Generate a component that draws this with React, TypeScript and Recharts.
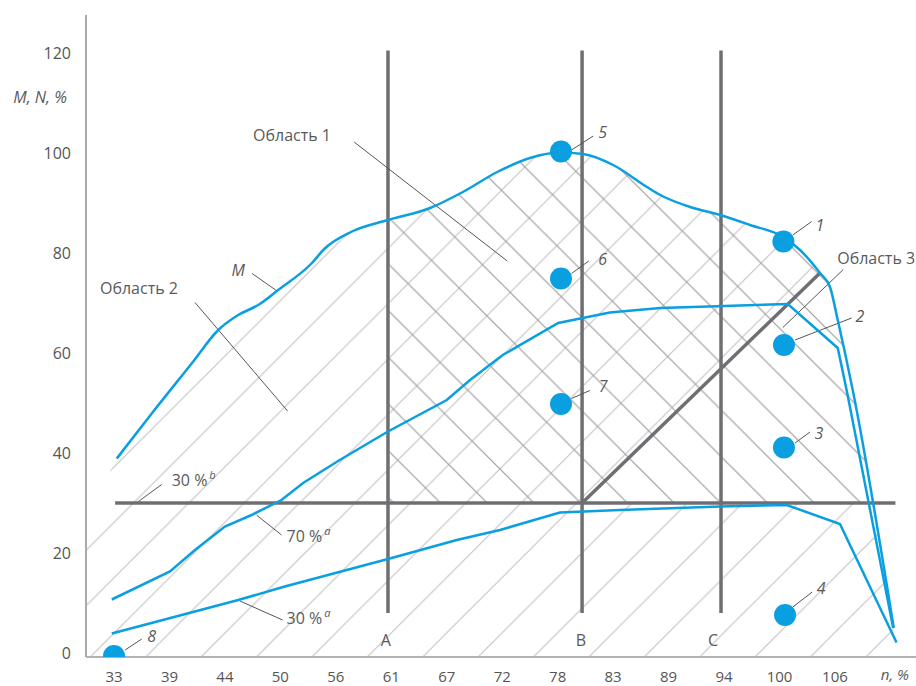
import React from 'react';
import { ComposedChart, Area, Line, Scatter, XAxis, YAxis, ReferenceLine, ReferenceDot } from 'recharts';

// x positions are indices into xLabels (equal spacing on the n axis)
const xLabels = ['33', '39', '44', '50', '56', '61', '67', '72', '78', '83', '89', '94', '100', '106'];
const xTicks = xLabels.map((_, i) => i);
const yTicks = [0, 20, 40, 60, 80, 100, 120];

const mCurve = [
  { x: 0.05, y: 38.9 }, { x: 0.68, y: 47.9 }, { x: 1.4, y: 57.9 }, { x: 1.88, y: 64.6 },
  { x: 2.24, y: 67.6 }, { x: 2.6, y: 69.6 }, { x: 2.96, y: 72.6 }, { x: 3.56, y: 77.9 },
  { x: 3.8, y: 80.9 }, { x: 4.29, y: 84.3 }, { x: 4.94, y: 86.6 }, { x: 5.7, y: 89 },
  { x: 6.29, y: 92.2 }, { x: 6.91, y: 96.2 }, { x: 7.5, y: 99 }, { x: 8.04, y: 100.1 },
  { x: 8.46, y: 99.8 }, { x: 9.0, y: 97.6 }, { x: 9.61, y: 93.2 }, { x: 9.85, y: 91.6 },
  { x: 10.39, y: 89.2 }, { x: 10.93, y: 87.6 }, { x: 11.47, y: 85.6 }, { x: 12.07, y: 83.2 },
  { x: 12.37, y: 80.6 }, { x: 12.73, y: 76 }, { x: 12.91, y: 73.2 }, { x: 13.05, y: 66.6 },
  { x: 13.32, y: 52.6 }, { x: 14.06, y: 5 },
];

const n70 = [
  { x: -0.04, y: 10.7 }, { x: 1.01, y: 16.3 }, { x: 1.46, y: 20.6 }, { x: 2.0, y: 25.3 },
  { x: 2.48, y: 27.6 }, { x: 3.02, y: 30.6 }, { x: 3.41, y: 34 }, { x: 4.07, y: 38.6 },
  { x: 4.94, y: 44.3 }, { x: 6.0, y: 50.6 }, { x: 6.42, y: 54.6 }, { x: 7.01, y: 59.6 },
  { x: 8.01, y: 66 }, { x: 8.94, y: 68.1 }, { x: 9.85, y: 69 }, { x: 12.15, y: 69.8 },
  { x: 13.05, y: 61 }, { x: 13.21, y: 52.6 }, { x: 14.05, y: 5 },
];

const n30 = [
  { x: -0.04, y: 3.9 }, { x: 1.22, y: 7.6 }, { x: 2.24, y: 10.6 }, { x: 3.08, y: 13.3 },
  { x: 3.35, y: 14.1 }, { x: 4.94, y: 18.8 }, { x: 6.18, y: 22.6 }, { x: 6.96, y: 24.6 },
  { x: 8.04, y: 28.1 }, { x: 9.12, y: 28.6 }, { x: 10.93, y: 29.3 }, { x: 12.13, y: 29.6 },
  { x: 13.09, y: 25.8 }, { x: 14.11, y: 2.1 },
];

const points = [
  { id: '1', x: 12.07, y: 82.3 }, { id: '2', x: 12.08, y: 61.6 }, { id: '3', x: 12.08, y: 41.1 },
  { id: '4', x: 12.1, y: 7.6 }, { id: '5', x: 8.06, y: 100.3 }, { id: '6', x: 8.06, y: 74.9 },
  { id: '7', x: 8.06, y: 49.8 }, { id: '8', x: 0, y: -0.6 },
];

const zones = [{ name: 'A', x: 4.94 }, { name: 'B', x: 8.44 }, { name: 'C', x: 10.945 }];
const threshold = 30;
const mCross = 13.67; // where M meets the 30 % line
const diag = [{ x: 8.44, y: 30 }, { x: 12.73, y: 76 }];

const BLUE = '#0a9fe0';
const DARK = '#6f6f73';
const HATCH = '#9c9c9c';
const TEXT = '#5a5a5a';

// regions built from the curves above
const region2 = [{ x: -0.505, y: 25 }, ...mCurve];
const region13 = [
  ...mCurve.filter((p) => p.x >= zones[0].x && p.y >= threshold).map((p) => ({ x: p.x, r: [threshold, p.y] })),
  { x: mCross, r: [threshold, threshold] },
];
const region3 = [
  { x: diag[0].x, r: [threshold, threshold] },
  ...mCurve.filter((p) => p.x >= diag[1].x && p.y >= threshold).map((p) => ({ x: p.x, r: [threshold, p.y] })),
  { x: mCross, r: [threshold, threshold] },
];

// annotation leaders and texts, in data units
const leaders = [
  [[12.24, 83.6], [12.58, 86.3]], [[12.28, 62.6], [13.3, 67]], [[12.28, 42], [12.55, 44.2]],
  [[12.24, 9.2], [12.59, 12.2]], [[8.25, 100.6], [8.64, 103.4]], [[8.25, 75.9], [8.56, 78.4]],
  [[8.25, 50.9], [8.58, 52.5]], [[0.2, 0.6], [0.5, 2.8]],
  [[4.33, 102.2], [7.09, 78.4]], [[1.46, 70.1], [3.13, 48.4]], [[2.49, 75.9], [2.94, 72.4]],
  [[13.15, 76.7], [12.06, 65.1]], [[0.86, 33.7], [0.44, 30.3]], [[2.57, 27.6], [3.02, 23.6]],
  [[2.27, 10.4], [3.04, 6.6]],
];

type Note = { x: number; y: number; text: string; sup?: string; italic?: boolean; anchor?: string };
const notes: Note[] = [
  { x: 12.73, y: 85.6, text: '1', italic: true },
  { x: 13.45, y: 67.4, text: '2', italic: true },
  { x: 12.71, y: 44, text: '3', italic: true },
  { x: 12.75, y: 13, text: '4', italic: true },
  { x: 8.81, y: 104.2, text: '5', italic: true },
  { x: 8.81, y: 78.8, text: '6', italic: true },
  { x: 8.82, y: 53.3, text: '7', italic: true },
  { x: 0.68, y: 3.4, text: '8', italic: true },
  { x: 3.21, y: 103.6, text: 'Область 1' },
  { x: 0.45, y: 73, text: 'Область 2' },
  { x: 13.04, y: 79, text: 'Область 3', anchor: 'start' },
  { x: 2.24, y: 76.6, text: 'M', italic: true },
  { x: 1.04, y: 34.6, text: '30 %', sup: 'b', anchor: 'start' },
  { x: 3.11, y: 23.3, text: '70 %', sup: 'a', anchor: 'start' },
  { x: 3.11, y: 6.9, text: '30 %', sup: 'a', anchor: 'start' },
  { x: 4.9, y: 2.6, text: 'A' },
  { x: 8.42, y: 2.6, text: 'B' },
  { x: 10.8, y: 2.6, text: 'C' },
  { x: 14.08, y: -4.4, text: 'n, %', italic: true },
  { x: -0.85, y: 111.2, text: 'M, N, %', italic: true, anchor: 'end' },
];

const noteLabel = (n: Note) => (props: any) => {
  const vb = props.viewBox || {};
  return (
    <text
      x={vb.x + (vb.width || 0) / 2}
      y={vb.y + (vb.height || 0) / 2}
      dy="0.35em"
      textAnchor={n.anchor || 'middle'}
      fontSize={n.text === 'n, %' ? 15 : 16}
      fill={TEXT}
      fontStyle={n.italic ? 'italic' : 'normal'}
    >
      {n.text}
      {n.sup && (
        <tspan dy={-7} dx={2} fontSize={11} fontStyle="italic">
          {n.sup}
        </tspan>
      )}
    </text>
  );
};

const S1 = 55.4;
const S2 = 46.7;

export default function App() {
  return (
    <div style={{ position: 'absolute', left: 0, top: 0, fontFamily: '"Open Sans", sans-serif' }}>
      <ComposedChart width={916} height={686} margin={{ top: 15, right: 0, bottom: 0, left: 0 }}>
        <defs>
          <pattern id="slash" patternUnits="userSpaceOnUse" width={S1} height={S1} x={27} y={0}>
            <path
              d={`M0,${S1} L${S1},0 M${-S1 / 2},${S1 / 2} L${S1 / 2},${-S1 / 2} M${S1 / 2},${1.5 * S1} L${1.5 * S1},${S1 / 2}`}
              stroke={HATCH}
              strokeWidth={1.2}
            />
          </pattern>
          <pattern id="backslash" patternUnits="userSpaceOnUse" width={S2} height={S2} x={31} y={0}>
            <path
              d={`M0,0 L${S2},${S2} M${-S2 / 2},${S2 / 2} L${S2 / 2},${1.5 * S2} M${S2 / 2},${-S2 / 2} L${1.5 * S2},${S2 / 2}`}
              stroke={HATCH}
              strokeWidth={1.2}
            />
          </pattern>
        </defs>
        <XAxis
          type="number"
          dataKey="x"
          domain={[-0.505, 14.461]}
          allowDataOverflow
          ticks={xTicks}
          tickFormatter={(v) => xLabels[v] ?? ''}
          interval={0}
          height={29}
          tickLine={false}
          tickMargin={8}
          axisLine={{ stroke: '#b2b2b6', strokeWidth: 2 }}
          tick={{ fill: '#555', fontSize: 15 }}
        />
        <YAxis
          type="number"
          dataKey="y"
          domain={[-0.8, 127.6]}
          allowDataOverflow
          ticks={yTicks}
          interval={0}
          width={86}
          tickLine={false}
          tickMargin={9}
          axisLine={{ stroke: '#a8a8ad', strokeWidth: 2 }}
          tick={{ fill: '#555', fontSize: 16 }}
        />
        <Area data={region2} dataKey="y" type="monotone" baseValue={-0.8} stroke="none" fill="url(#slash)" isAnimationActive={false} />
        <Area data={region3} dataKey="r" type="linear" stroke="none" fill="#fff" fillOpacity={1} isAnimationActive={false} />
        <Area data={region13} dataKey="r" type="monotone" stroke="none" fill="url(#backslash)" fillOpacity={1} isAnimationActive={false} />

        {zones.map((z) => (
          <ReferenceLine key={z.name} segment={[{ x: z.x, y: 8 }, { x: z.x, y: 120.5 }]} stroke={DARK} strokeWidth={3.5} />
        ))}
        <ReferenceLine segment={[{ x: 0.02, y: threshold }, { x: 14.09, y: threshold }]} stroke={DARK} strokeWidth={3.5} />
        <ReferenceLine segment={[diag[0], diag[1]]} stroke={DARK} strokeWidth={3.5} />

        {leaders.map((l, i) => (
          <ReferenceLine
            key={'l' + i}
            segment={[{ x: l[0][0], y: l[0][1] }, { x: l[1][0], y: l[1][1] }]}
            stroke="#555"
            strokeWidth={1}
            ifOverflow="visible"
          />
        ))}

        <Line data={n30} dataKey="y" type="linear" stroke={BLUE} strokeWidth={2.5} dot={false} isAnimationActive={false} />
        <Line data={n70} dataKey="y" type="linear" stroke={BLUE} strokeWidth={2.5} dot={false} isAnimationActive={false} />
        <Line data={mCurve} dataKey="y" type="monotone" stroke={BLUE} strokeWidth={2.5} dot={false} isAnimationActive={false} />
        <Scatter
          data={points}
          dataKey="y"
          fill={BLUE}
          isAnimationActive={false}
          shape={(p: any) => <circle cx={p.cx} cy={p.cy} r={11} fill={BLUE} />}
        />

        {notes.map((n, i) => (
          <ReferenceDot
            key={'n' + i}
            x={n.x}
            y={n.y}
            r={0}
            fill="none"
            stroke="none"
            ifOverflow="visible"
            label={noteLabel(n)}
          />
        ))}
      </ComposedChart>
    </div>
  );
}
